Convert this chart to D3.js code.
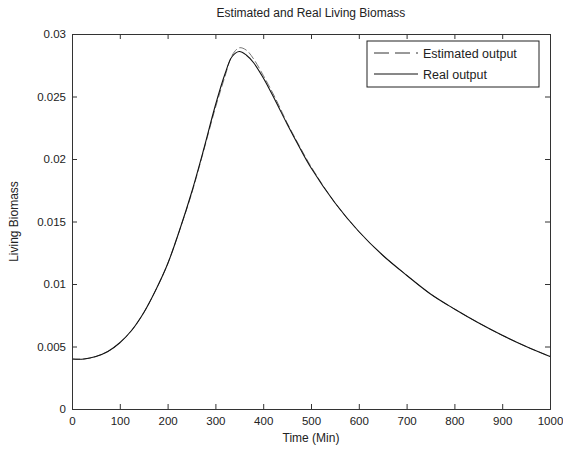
<!DOCTYPE html>
<html lang="en">
<head>
<meta charset="UTF-8">
<title>Estimated and Real Living Biomass</title>
<script src="https://d3js.org/d3.v7.min.js"></script>
<style>
  body { margin: 0; background: #fff; }
  text { font-family: "Liberation Sans", Arial, sans-serif; fill: #222; }
</style>
</head>
<body>
<div id="chart"></div>
<script>
// time samples (min)
const times = [0, 25, 50, 75, 100, 125, 150, 175, 200, 225, 250, 275, 300, 320, 335, 350, 365, 380, 400, 425, 450, 475, 500, 550, 600, 650, 700, 750, 800, 850, 900, 950, 1000];
// real output (living biomass)
const realOutput = [0.0040, 0.0040, 0.0042, 0.0046, 0.0053, 0.0063, 0.0077, 0.0095, 0.0116, 0.0143, 0.0173, 0.0207, 0.0243, 0.0268, 0.0282, 0.0286, 0.0283, 0.0277, 0.0265, 0.0247, 0.0228, 0.0210, 0.0193, 0.0165, 0.0142, 0.0123, 0.0107, 0.0092, 0.0080, 0.0069, 0.0059, 0.0050, 0.0042];
// estimated output
const estOutput = [0.0040, 0.0040, 0.0042, 0.0046, 0.0053, 0.0063, 0.0077, 0.0095, 0.0116, 0.0143, 0.0172, 0.0206, 0.0241, 0.0266, 0.0283, 0.0289, 0.0287, 0.0280, 0.0267, 0.0249, 0.0229, 0.0211, 0.0194, 0.0165, 0.0142, 0.0123, 0.0107, 0.0092, 0.0080, 0.0069, 0.0059, 0.0050, 0.0042];
const xTicks = [0, 100, 200, 300, 400, 500, 600, 700, 800, 900, 1000];
const yTicks = [0, 0.005, 0.01, 0.015, 0.02, 0.025, 0.03];

const width = 563, height = 451;
const margin = { top: 34, right: 13, bottom: 42, left: 72 };

const svg = d3.select("#chart").append("svg")
  .attr("width", width).attr("height", height);

const x = d3.scaleLinear().domain([0, 1000]).range([margin.left, width - margin.right]);
const y = d3.scaleLinear().domain([0, 0.03]).range([height - margin.bottom, margin.top]);

// MATLAB style: ticks inward on all four sides
const tick = 5;
svg.append("g").attr("transform", `translate(0,${y(0)})`)
  .call(d3.axisBottom(x).tickValues(xTicks).tickSize(-tick).tickPadding(8).tickFormat(d3.format("d")));
svg.append("g").attr("transform", `translate(0,${y(0.03)})`)
  .call(d3.axisTop(x).tickValues(xTicks).tickSize(-tick).tickFormat(""));
svg.append("g").attr("transform", `translate(${x(0)},0)`)
  .call(d3.axisLeft(y).tickValues(yTicks).tickSize(-tick).tickPadding(6).tickFormat(d => d === 0 ? "0" : String(+d.toFixed(3))));
svg.append("g").attr("transform", `translate(${x(1000)},0)`)
  .call(d3.axisRight(y).tickValues(yTicks).tickSize(-tick).tickFormat(""));

svg.selectAll(".domain").attr("stroke", "#333");
svg.selectAll(".tick line").attr("stroke", "#333");
svg.selectAll(".tick text").style("font-size", "11.5px").attr("fill", "#222");

const line = d3.line().x((d, i) => x(times[i])).y(d => y(d)).curve(d3.curveCatmullRom.alpha(0.5));

svg.append("path").datum(estOutput)
  .attr("fill", "none").attr("stroke", "#777").attr("stroke-width", 1)
  .attr("stroke-dasharray", "8,3")
  .attr("d", line);
svg.append("path").datum(realOutput)
  .attr("fill", "none").attr("stroke", "#111").attr("stroke-width", 1.1)
  .attr("d", line);

// title and axis labels
const cx = (x(0) + x(1000)) / 2;
svg.append("text").attr("x", cx).attr("y", 17).attr("text-anchor", "middle")
  .style("font-size", "12px").text("Estimated and Real Living Biomass");
svg.append("text").attr("x", cx).attr("y", 442).attr("text-anchor", "middle")
  .style("font-size", "12px").text("Time (Min)");
svg.append("text").attr("transform", `translate(18,${(y(0) + y(0.03)) / 2}) rotate(-90)`)
  .attr("text-anchor", "middle").style("font-size", "12px").text("Living Biomass");

// legend
const legend = svg.append("g");
legend.append("rect").attr("x", 367).attr("y", 41).attr("width", 172).attr("height", 46)
  .attr("fill", "#fff").attr("stroke", "#222");
legend.append("line").attr("x1", 374).attr("x2", 418).attr("y1", 53).attr("y2", 53)
  .attr("stroke", "#333").attr("stroke-dasharray", "15,6");
legend.append("line").attr("x1", 374).attr("x2", 418).attr("y1", 74).attr("y2", 74)
  .attr("stroke", "#111");
legend.append("text").attr("x", 423).attr("y", 58).style("font-size", "12.5px").text("Estimated output");
legend.append("text").attr("x", 423).attr("y", 79).style("font-size", "12.5px").text("Real output");
</script>
</body>
</html>
